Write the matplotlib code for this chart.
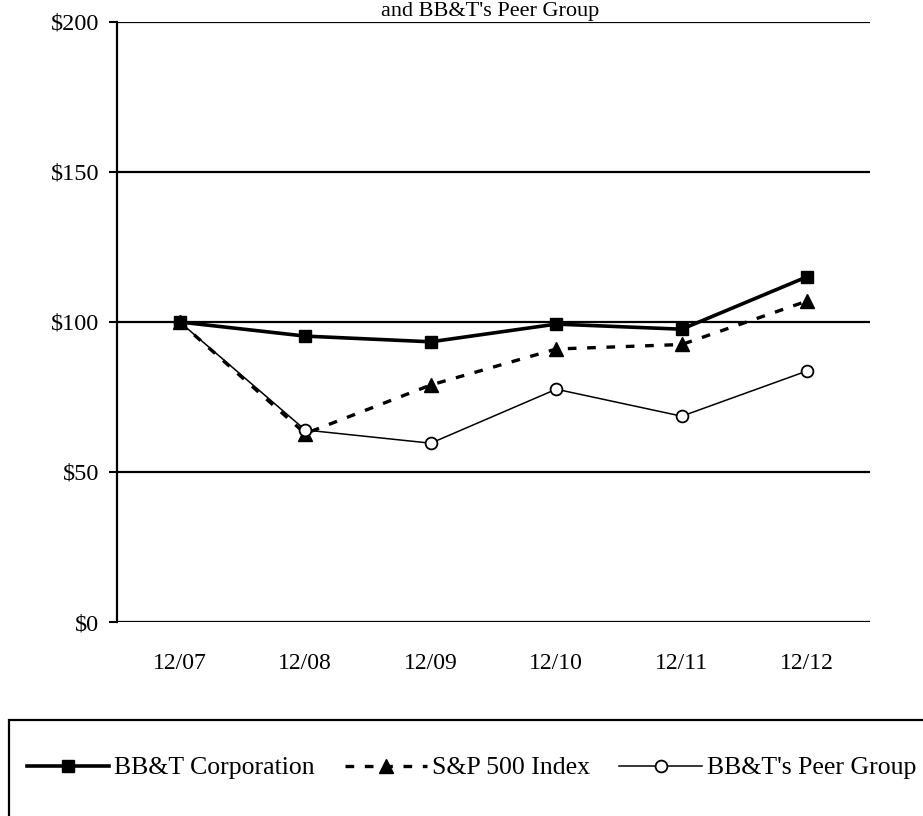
import matplotlib.pyplot as plt
from matplotlib.patches import Rectangle

# Data
years = ["12/07", "12/08", "12/09", "12/10", "12/11", "12/12"]
bbt = [100, 95.3, 93.4, 99.3, 97.6, 115.1]
sp500 = [100, 62.8, 79.0, 91.0, 92.5, 107.0]
peers = [100, 64.0, 59.6, 77.6, 68.6, 83.7]
y_ticks = [0, 50, 100, 150, 200]
y_labels = ["$0", "$50", "$100", "$150", "$200"]

plt.rcParams["font.family"] = ["Liberation Serif", "DejaVu Serif"]

fig = plt.figure(figsize=(9.23, 8.16), dpi=100)
ax = fig.add_axes([117 / 923, 1 - 622 / 816, 753 / 923, 600 / 816])

x = list(range(len(years)))

# grid lines at each tick
for v in y_ticks:
    ax.axhline(v, color="black", lw=1.6, zorder=1)

ax.plot(x, sp500, color="black", lw=2.4, dashes=(2.6, 3.2), marker="^",
        markersize=10, label="S&P 500 Index", zorder=2)
ax.plot(x, peers, color="black", lw=1.1, marker="o", markersize=8.5,
        markerfacecolor="white", markeredgewidth=1.3,
        label="BB&T's Peer Group", zorder=3)
ax.plot(x, bbt, color="black", lw=2.6, marker="s", markersize=9,
        label="BB&T Corporation", zorder=4)

ax.set_xlim(-0.5, 5.5)
ax.set_ylim(0, 200)
ax.set_xticks(x)
ax.set_xticklabels(years)
ax.set_yticks(y_ticks)
ax.set_yticklabels(y_labels)
ax.tick_params(axis="x", length=0, pad=22, labelsize=17)
ax.tick_params(axis="y", length=6, width=1.5, direction="out", pad=7, labelsize=17.5)

for side in ["top", "right", "bottom"]:
    ax.spines[side].set_visible(False)
ax.spines["left"].set_linewidth(1.6)

# title line just above the plot
fig.text(0.531, 1 - 16 / 816, "and BB&T's Peer Group", ha="center",
         va="baseline", fontsize=16)

# legend frame running off the page
fig.patches.append(Rectangle((9 / 923, -0.2), 1.2, 0.2 + (1 - 720 / 816),
                             transform=fig.transFigure, fill=False,
                             edgecolor="black", lw=1.6))

handles, labels = ax.get_legend_handles_labels()
order = [2, 0, 1]
leg = fig.legend([handles[i] for i in order], [labels[i] for i in order],
                 loc="center left", bbox_to_anchor=(27 / 923, 1 - 768 / 816),
                 ncol=3, frameon=False, fontsize=18.5, handlelength=3.2,
                 handletextpad=0.2, columnspacing=1.15, borderpad=0,
                 borderaxespad=0)

fig.savefig("out.png", dpi=100)
